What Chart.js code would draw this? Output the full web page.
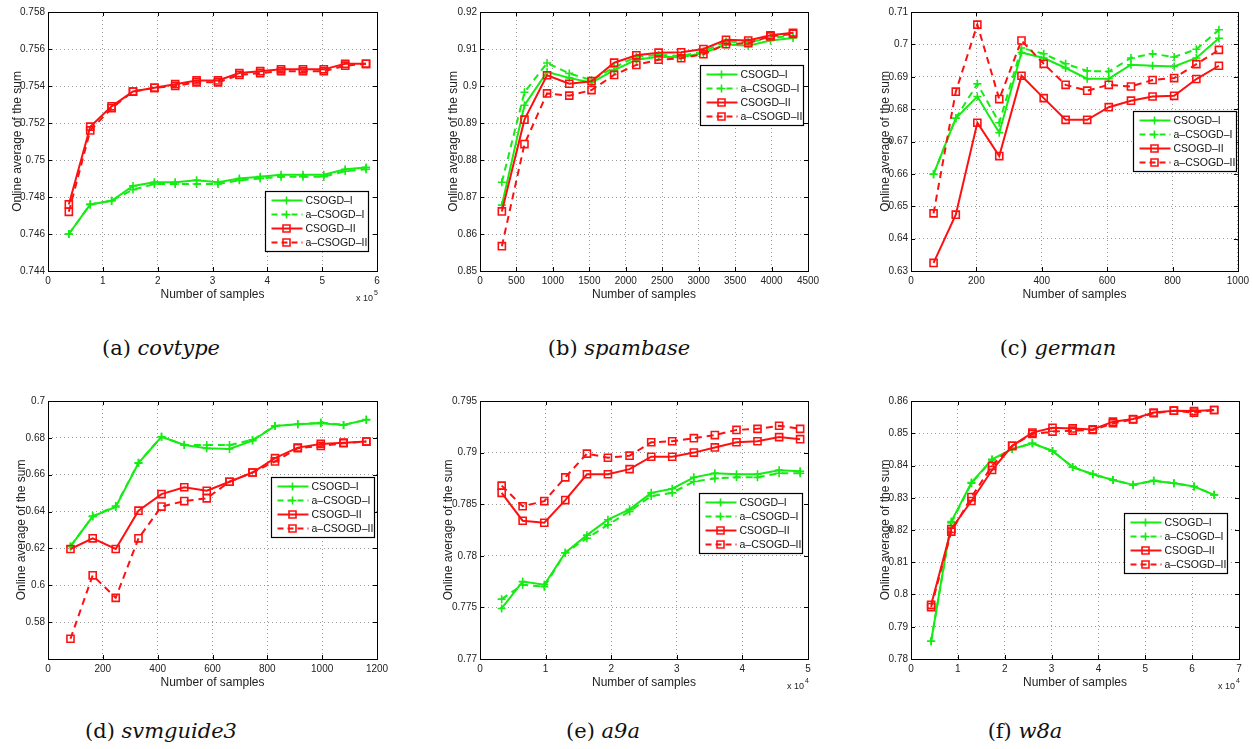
<!DOCTYPE html>
<html>
<head>
<meta charset="utf-8">
<title>Online average of the sum</title>
<script src="https://cdn.jsdelivr.net/npm/chart.js@4.4.0/dist/chart.umd.min.js"></script>
<style>
  body { margin: 0; background: #fff; width: 1253px; height: 749px; overflow: hidden; position: relative; }
  canvas { position: absolute; }
  .cap { position: absolute; font-family: 'DejaVu Serif', serif; font-size: 21px; line-height: 26px; color: #111; white-space: nowrap; transform: translateX(-50%); }
</style>
</head>
<body>
<canvas id="cA" width="420" height="310" style="left:0;top:0"></canvas>
<canvas id="cB" width="420" height="310" style="left:420px;top:0"></canvas>
<canvas id="cC" width="413" height="310" style="left:840px;top:0"></canvas>
<canvas id="cD" width="420" height="330" style="left:0;top:370px"></canvas>
<canvas id="cE" width="420" height="330" style="left:420px;top:370px"></canvas>
<canvas id="cF" width="413" height="330" style="left:840px;top:370px"></canvas>

<div class="cap" style="left:161px;top:335px">(a) <i>covtype</i></div>
<div class="cap" style="left:619px;top:335px">(b) <i>spambase</i></div>
<div class="cap" style="left:1058px;top:335px">(c) <i>german</i></div>
<div class="cap" style="left:161px;top:718px">(d) <i>svmguide3</i></div>
<div class="cap" style="left:603px;top:718px">(e) <i>a9a</i></div>
<div class="cap" style="left:1025px;top:718px">(f) <i>w8a</i></div>

<script>
// series names, shared by all six panels
const seriesNames = ['CSOGD–I', 'a–CSOGD–I', 'CSOGD–II', 'a–CSOGD–II'];

// (a) covtype, samples in units of 1e5
const covtypeX = [0.38, 0.77, 1.16, 1.55, 1.94, 2.32, 2.71, 3.10, 3.49, 3.87, 4.25, 4.65, 5.03, 5.42, 5.80];
const covtypeCsogdI = [0.7460, 0.7476, 0.7478, 0.7486, 0.7488, 0.7488, 0.7489, 0.7488, 0.7490, 0.7491, 0.7492, 0.7492, 0.7492, 0.7495, 0.7496];
const covtypeACsogdI = [0.7460, 0.7476, 0.7478, 0.7484, 0.7487, 0.7487, 0.7487, 0.7487, 0.7489, 0.7490, 0.7491, 0.7491, 0.7491, 0.7494, 0.7495];
const covtypeCsogdII = [0.7476, 0.7518, 0.7529, 0.7537, 0.7539, 0.7541, 0.7543, 0.7543, 0.7547, 0.7548, 0.7549, 0.7549, 0.7549, 0.7552, 0.7552];
const covtypeACsogdII = [0.7472, 0.7516, 0.7528, 0.7537, 0.7539, 0.7540, 0.7542, 0.7542, 0.7546, 0.7547, 0.7548, 0.7548, 0.7548, 0.7551, 0.7552];

// (b) spambase
const spambaseX = [300, 610, 920, 1225, 1530, 1840, 2145, 2450, 2760, 3065, 3375, 3680, 3985, 4295];
const spambaseCsogdI = [0.8678, 0.8948, 0.9038, 0.9022, 0.9009, 0.9043, 0.9071, 0.9079, 0.9078, 0.9089, 0.9112, 0.9109, 0.9123, 0.9130];
const spambaseACsogdI = [0.8740, 0.8983, 0.9062, 0.9034, 0.9016, 0.9050, 0.9079, 0.9084, 0.9081, 0.9093, 0.9120, 0.9118, 0.9130, 0.9136];
const spambaseCsogdII = [0.8661, 0.8909, 0.9029, 0.9006, 0.9013, 0.9063, 0.9083, 0.9090, 0.9091, 0.9100, 0.9125, 0.9123, 0.9137, 0.9144];
const spambaseACsogdII = [0.8567, 0.8843, 0.8980, 0.8974, 0.8989, 0.9030, 0.9057, 0.9071, 0.9075, 0.9086, 0.9113, 0.9116, 0.9134, 0.9141];

// (c) german
const germanX = [69, 137, 203, 270, 338, 406, 473, 539, 605, 673, 739, 805, 873, 942];
const germanCsogdI = [0.6599, 0.6772, 0.6839, 0.6727, 0.6975, 0.6958, 0.6927, 0.6894, 0.6894, 0.6937, 0.6934, 0.6932, 0.6958, 0.7019];
const germanACsogdI = [0.6599, 0.6772, 0.6878, 0.6758, 0.6989, 0.6971, 0.6940, 0.6918, 0.6916, 0.6958, 0.6971, 0.6961, 0.6985, 0.7045];
const germanCsogdII = [0.6325, 0.6474, 0.6758, 0.6655, 0.6903, 0.6834, 0.6767, 0.6767, 0.6806, 0.6826, 0.6839, 0.6841, 0.6893, 0.6934];
const germanACsogdII = [0.6478, 0.6854, 0.7061, 0.6831, 0.7012, 0.6940, 0.6875, 0.6857, 0.6875, 0.6870, 0.6890, 0.6896, 0.6939, 0.6983];

// (d) svmguide3
const svmguide3X = [82, 163, 247, 330, 414, 497, 579, 662, 746, 828, 911, 995, 1078, 1161];
const svmguide3CsogdI = [0.6211, 0.6374, 0.6425, 0.6663, 0.6806, 0.6761, 0.6743, 0.6740, 0.6785, 0.6865, 0.6874, 0.6879, 0.6870, 0.6899];
const svmguide3ACsogdI = [0.6211, 0.6374, 0.6430, 0.6665, 0.6806, 0.6762, 0.6761, 0.6761, 0.6789, 0.6865, 0.6874, 0.6883, 0.6870, 0.6897];
const svmguide3CsogdII = [0.6197, 0.6255, 0.6197, 0.6405, 0.6495, 0.6532, 0.6513, 0.6562, 0.6612, 0.6690, 0.6747, 0.6767, 0.6774, 0.6780];
const svmguide3ACsogdII = [0.5710, 0.6054, 0.5932, 0.6255, 0.6427, 0.6457, 0.6472, 0.6562, 0.6612, 0.6672, 0.6744, 0.6756, 0.6771, 0.6780];

// (e) a9a, samples in units of 1e4
const a9aX = [0.33, 0.65, 0.98, 1.30, 1.63, 1.95, 2.28, 2.61, 2.93, 3.26, 3.58, 3.91, 4.23, 4.56, 4.88];
const a9aCsogdI = [0.7749, 0.7775, 0.7772, 0.7803, 0.7820, 0.7835, 0.7845, 0.7861, 0.7865, 0.7876, 0.7880, 0.7879, 0.7879, 0.7883, 0.7882];
const a9aACsogdI = [0.7758, 0.7772, 0.7770, 0.7803, 0.7817, 0.7830, 0.7843, 0.7858, 0.7861, 0.7872, 0.7875, 0.7876, 0.7876, 0.7880, 0.7880];
const a9aCsogdII = [0.7861, 0.7834, 0.7832, 0.7854, 0.7879, 0.7879, 0.7884, 0.7896, 0.7896, 0.7900, 0.7905, 0.7910, 0.7911, 0.7915, 0.7913];
const a9aACsogdII = [0.7868, 0.7848, 0.7853, 0.7876, 0.7899, 0.7895, 0.7897, 0.7910, 0.7911, 0.7914, 0.7917, 0.7922, 0.7923, 0.7926, 0.7923];

// (f) w8a, samples in units of 1e4
const w8aX = [0.43, 0.86, 1.29, 1.73, 2.16, 2.59, 3.02, 3.45, 3.88, 4.31, 4.74, 5.18, 5.61, 6.04, 6.47];
const w8aCsogdI = [0.7855, 0.8226, 0.8347, 0.8419, 0.8451, 0.8469, 0.8445, 0.8395, 0.8373, 0.8355, 0.8340, 0.8353, 0.8345, 0.8335, 0.8309];
const w8aACsogdI = [0.7855, 0.8222, 0.8345, 0.8417, 0.8451, 0.8469, 0.8445, 0.8395, 0.8373, 0.8355, 0.8340, 0.8353, 0.8345, 0.8335, 0.8309];
const w8aCsogdII = [0.7968, 0.8203, 0.8290, 0.8386, 0.8461, 0.8502, 0.8517, 0.8515, 0.8512, 0.8536, 0.8544, 0.8564, 0.8570, 0.8569, 0.8572];
const w8aACsogdII = [0.7961, 0.8195, 0.8302, 0.8399, 0.8461, 0.8498, 0.8505, 0.8508, 0.8510, 0.8531, 0.8543, 0.8562, 0.8570, 0.8564, 0.8572];

const GREEN = '#14ec14';
const RED = '#ff1010';
const FONT = "'Liberation Sans', Arial, sans-serif";

// line style per series: solid/dashed, plus marker or square marker
const styles = [
  { color: GREEN, dash: [], marker: 'cross' },
  { color: GREEN, dash: [7, 5], marker: 'cross' },
  { color: RED, dash: [], marker: 'rect' },
  { color: RED, dash: [7, 5], marker: 'rect' }
];

function drawMarker(ctx, kind, x, y, color) {
  ctx.save();
  ctx.strokeStyle = color;
  ctx.lineWidth = 1.6;
  ctx.setLineDash([]);
  ctx.beginPath();
  if (kind === 'cross') {
    ctx.moveTo(x - 4, y); ctx.lineTo(x + 4, y);
    ctx.moveTo(x, y - 4); ctx.lineTo(x, y + 4);
  } else {
    ctx.rect(x - 3.5, y - 3.5, 7, 7);
  }
  ctx.stroke();
  ctx.restore();
}

// box, inward ticks, legend and axis exponent, drawn over the plot
const matlabFrame = {
  id: 'matlabFrame',
  afterDraw(chart, args, opts) {
    const { ctx, chartArea: a, scales: { x, y } } = chart;
    ctx.save();
    ctx.strokeStyle = '#000';
    ctx.lineWidth = 1;
    ctx.beginPath();
    x.ticks.forEach(t => {
      const px = Math.round(x.getPixelForValue(t.value)) + 0.5;
      ctx.moveTo(px, a.bottom); ctx.lineTo(px, a.bottom - 4);
      ctx.moveTo(px, a.top); ctx.lineTo(px, a.top + 4);
    });
    y.ticks.forEach(t => {
      const py = Math.round(y.getPixelForValue(t.value)) + 0.5;
      ctx.moveTo(a.left, py); ctx.lineTo(a.left + 4, py);
      ctx.moveTo(a.right, py); ctx.lineTo(a.right - 4, py);
    });
    ctx.stroke();
    ctx.strokeRect(Math.round(a.left) + 0.5, Math.round(a.top) + 0.5, Math.round(a.width), Math.round(a.height));

    if (opts.exponent) {
      ctx.fillStyle = '#222';
      ctx.font = '9px ' + FONT;
      ctx.textAlign = 'right';
      ctx.textBaseline = 'alphabetic';
      ctx.fillText('x 10', a.right - 4, a.bottom + 30);
      ctx.font = '7px ' + FONT;
      ctx.textAlign = 'left';
      ctx.fillText(opts.exponent, a.right - 3, a.bottom + 24);
    }

    if (opts.legend) {
      const bx = Math.round(a.left + opts.legend.x) + 0.5;
      const by = Math.round(a.top + opts.legend.y) + 0.5;
      ctx.fillStyle = '#fff';
      ctx.fillRect(bx, by, 103, 60);
      ctx.strokeStyle = '#000';
      ctx.lineWidth = 1.2;
      ctx.strokeRect(bx, by, 103, 60);
      ctx.font = '10.5px ' + FONT;
      ctx.textBaseline = 'middle';
      ctx.textAlign = 'left';
      chart.data.datasets.forEach((ds, i) => {
        const st = styles[i];
        const ly = by + 9 + i * 14;
        ctx.strokeStyle = st.color;
        ctx.lineWidth = 2;
        ctx.setLineDash(st.dash.length ? [6, 4] : []);
        ctx.beginPath();
        ctx.moveTo(bx + 6, ly); ctx.lineTo(bx + 37, ly);
        ctx.stroke();
        drawMarker(ctx, st.marker, bx + 21, ly, st.color);
        ctx.setLineDash([]);
        ctx.fillStyle = '#111';
        ctx.fillText(ds.label, bx + 40, ly + 0.5);
      });
    }
    ctx.restore();
  }
};

function fmt(v) {
  return String(+v.toFixed(4));
}

function makePanel(id, xs, ys, cfg) {
  const datasets = ys.map((vals, i) => ({
    label: seriesNames[i],
    data: vals.map((v, k) => ({ x: xs[k], y: v })),
    borderColor: styles[i].color,
    borderWidth: 2,
    borderDash: styles[i].dash,
    pointStyle: styles[i].marker,
    pointRadius: styles[i].marker === 'rect' ? 5 : 4,
    pointBorderWidth: 1.6,
    pointBorderColor: styles[i].color,
    pointBackgroundColor: 'rgba(0,0,0,0)',
    fill: false,
    tension: 0,
    order: 3 - i
  }));

  new Chart(document.getElementById(id), {
    type: 'line',
    data: { datasets },
    options: {
      responsive: false,
      animation: false,
      layout: { padding: { left: 0, top: cfg.padTop, right: cfg.padRight, bottom: 0 } },
      plugins: {
        legend: { display: false },
        tooltip: { enabled: false },
        matlabFrame: { legend: cfg.legend, exponent: cfg.exponent }
      },
      scales: {
        x: {
          type: 'linear',
          min: cfg.xMin, max: cfg.xMax,
          afterFit: s => { s.height = cfg.xAxisH; },
          ticks: {
            stepSize: cfg.xStep, autoSkip: false, maxRotation: 0, padding: 4,
            color: '#222', font: { family: FONT, size: 10 },
            callback: v => fmt(v)
          },
          grid: { color: '#9a9a9a', lineWidth: 1, drawTicks: false },
          border: { display: false, dash: [1, 3] },
          title: {
            display: true, text: 'Number of samples', color: '#222',
            font: { family: FONT, size: 12 }, padding: { top: 0, bottom: cfg.xTitlePad }
          }
        },
        y: {
          min: cfg.yMin, max: cfg.yMax,
          afterFit: s => { s.width = cfg.yAxisW; },
          ticks: {
            stepSize: cfg.yStep, padding: 3,
            color: '#222', font: { family: FONT, size: 10 },
            callback: v => (cfg.hideY && Math.abs(v - cfg.hideY) < 1e-9) ? '' : fmt(v)
          },
          grid: { color: '#9a9a9a', lineWidth: 1, drawTicks: false },
          border: { display: false, dash: [1, 3] },
          title: {
            display: true, text: 'Online average of the sum', color: '#222',
            font: { family: FONT, size: 12 }, padding: { top: cfg.yTitlePad, bottom: 0 }
          }
        }
      }
    },
    plugins: [matlabFrame]
  });
}

makePanel('cA', covtypeX, [covtypeCsogdI, covtypeACsogdI, covtypeCsogdII, covtypeACsogdII], {
  xMin: 0, xMax: 6, xStep: 1, yMin: 0.744, yMax: 0.758, yStep: 0.002,
  padTop: 12, padRight: 43, yAxisW: 48, xAxisH: 39, xTitlePad: 8, yTitlePad: 10,
  legend: { x: 217, y: 179 }, exponent: '5'
});
makePanel('cB', spambaseX, [spambaseCsogdI, spambaseACsogdI, spambaseCsogdII, spambaseACsogdII], {
  xMin: 0, xMax: 4500, xStep: 500, yMin: 0.85, yMax: 0.92, yStep: 0.01,
  padTop: 12, padRight: 32, yAxisW: 60, xAxisH: 39, xTitlePad: 8, yTitlePad: 26,
  legend: { x: 220, y: 53 }
});
makePanel('cC', germanX, [germanCsogdI, germanACsogdI, germanCsogdII, germanACsogdII], {
  xMin: 0, xMax: 1000, xStep: 200, yMin: 0.63, yMax: 0.71, yStep: 0.01,
  padTop: 12, padRight: 14, yAxisW: 71, xAxisH: 39, xTitlePad: 8, yTitlePad: 38,
  legend: { x: 222, y: 99 }
});
makePanel('cD', svmguide3X, [svmguide3CsogdI, svmguide3ACsogdI, svmguide3CsogdII, svmguide3ACsogdII], {
  xMin: 0, xMax: 1200, xStep: 200, yMin: 0.56, yMax: 0.7, yStep: 0.02, hideY: 0.56,
  padTop: 31, padRight: 43, yAxisW: 48, xAxisH: 41, xTitlePad: 10, yTitlePad: 14,
  legend: { x: 223, y: 76 }
});
makePanel('cE', a9aX, [a9aCsogdI, a9aACsogdI, a9aCsogdII, a9aACsogdII], {
  xMin: 0, xMax: 5, xStep: 1, yMin: 0.77, yMax: 0.795, yStep: 0.005,
  padTop: 31, padRight: 32, yAxisW: 60, xAxisH: 41, xTitlePad: 10, yTitlePad: 21,
  legend: { x: 219, y: 92 }, exponent: '4'
});
makePanel('cF', w8aX, [w8aCsogdI, w8aACsogdI, w8aCsogdII, w8aACsogdII], {
  xMin: 0, xMax: 7, xStep: 1, yMin: 0.78, yMax: 0.86, yStep: 0.01,
  padTop: 31, padRight: 14, yAxisW: 71, xAxisH: 41, xTitlePad: 10, yTitlePad: 38,
  legend: { x: 213, y: 112 }, exponent: '4'
});
</script>
</body>
</html>
